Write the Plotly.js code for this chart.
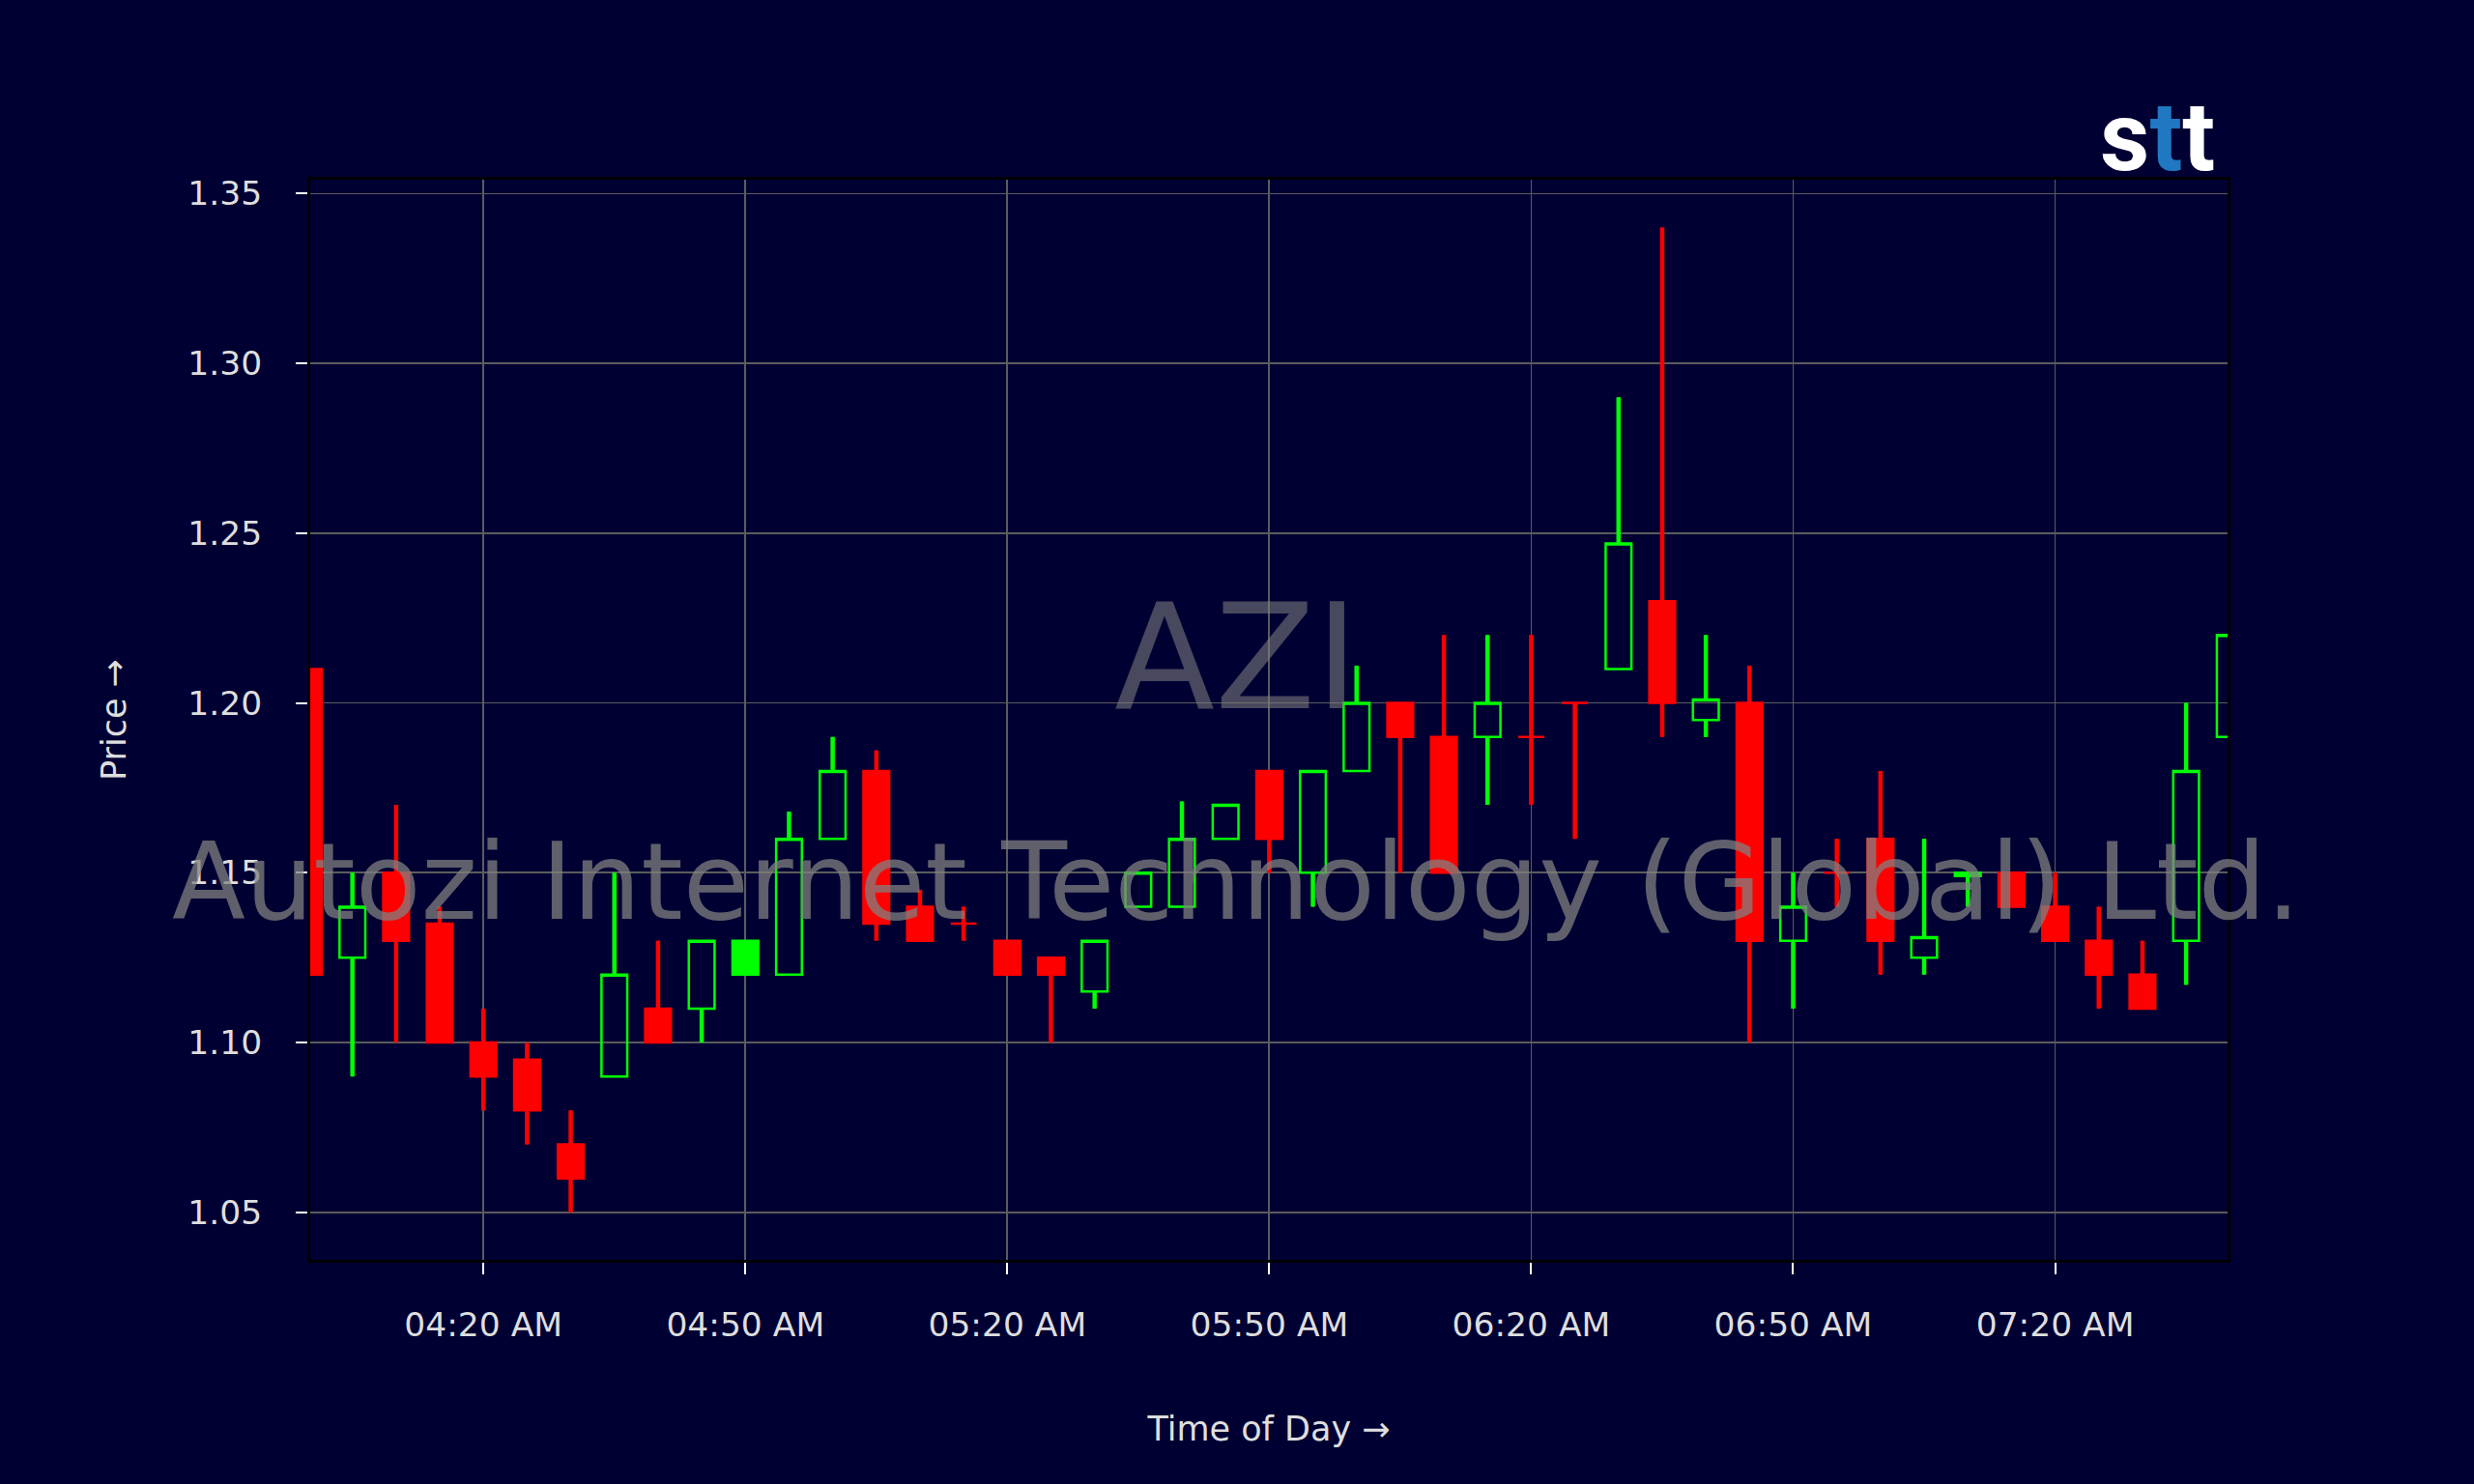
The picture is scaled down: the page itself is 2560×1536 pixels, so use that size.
<!DOCTYPE html>
<html>
<head>
<meta charset="utf-8">
<script src="https://cdn.plot.ly/plotly-3.0.1.min.js"></script>
<style>
html,body{margin:0;padding:0;background:#000033;}
#chart{width:2560px;height:1536px;}
</style>
</head>
<body>
<div id="chart"></div>
<script>
// ---- data ----
const sessionDate = '2024-01-01';
const times = ['04:00','04:05','04:10','04:15','04:20','04:25','04:30','04:35','04:40','04:45','04:50','04:55',
               '05:00','05:05','05:10','05:15','05:20','05:25','05:30','05:35','05:40','05:45','05:50','05:55',
               '06:00','06:05','06:10','06:15','06:20','06:25','06:30','06:35','06:40','06:45','06:50','06:55',
               '07:00','07:05','07:10','07:15','07:20','07:25','07:30','07:35','07:40'];
const opens  = [1.21, 1.125,1.15, 1.135,1.10, 1.095,1.07, 1.09, 1.11, 1.11, 1.12, 1.12,
                1.16, 1.18, 1.14, 1.135,1.13, 1.125,1.115,1.14, 1.14, 1.16, 1.18, 1.15,
                1.18, 1.20, 1.19, 1.19, 1.19, 1.20, 1.21, 1.23, 1.195,1.20, 1.13, 1.15,
                1.16, 1.125,1.149,1.15, 1.14, 1.13, 1.12, 1.13, 1.19];
const highs  = [1.21, 1.15, 1.17, 1.14, 1.11, 1.10, 1.08, 1.15, 1.13, 1.13, 1.13, 1.168,
                1.19, 1.186,1.145,1.14, 1.13, 1.125,1.13, 1.15, 1.171,1.17, 1.18, 1.18,
                1.211,1.20, 1.22, 1.22, 1.22, 1.20, 1.29, 1.34, 1.22, 1.211,1.15, 1.16,
                1.18, 1.16, 1.15, 1.15, 1.15, 1.14, 1.13, 1.20, 1.22];
const lows   = [1.12, 1.09, 1.10, 1.10, 1.08, 1.07, 1.05, 1.09, 1.10, 1.10, 1.12, 1.12,
                1.16, 1.13, 1.13, 1.13, 1.12, 1.10, 1.11, 1.14, 1.14, 1.16, 1.15, 1.14,
                1.18, 1.15, 1.15, 1.17, 1.17, 1.16, 1.21, 1.19, 1.19, 1.10, 1.11, 1.14,
                1.12, 1.12, 1.14, 1.14, 1.13, 1.11, 1.11, 1.117,1.18];
const closes = [1.12, 1.14, 1.13, 1.10, 1.09, 1.08, 1.06, 1.12, 1.10, 1.13, 1.13, 1.16,
                1.18, 1.135,1.13, 1.135,1.12, 1.12, 1.13, 1.15, 1.16, 1.17, 1.16, 1.18,
                1.20, 1.19, 1.15, 1.20, 1.19, 1.20, 1.247,1.20, 1.201,1.13, 1.14, 1.15,
                1.13, 1.131,1.15, 1.14, 1.13, 1.12, 1.11, 1.18, 1.22];
const priceTicks = [1.05, 1.10, 1.15, 1.20, 1.25, 1.30, 1.35];
const tickStart = '04:20';
const xStart = '04:00:10';
const xEnd = '07:39:45';
const watermarkSymbol = 'AZI';
const watermarkName = 'Autozi Internet Technology (Global) Ltd.';
const xTitle = 'Time of Day →';
const yTitle = 'Price →';

// ---- styles ----
const BG = '#000033';
const UP = '#00ff00';
const DOWN = '#ff0000';
const FONT = 'DejaVu Sans';
const TXT = '#dedede';
const GRID = '#5c5c5c';

const xs = times.map(t => sessionDate + ' ' + t);

// body colour: close vs open; hollow when close rose above previous close
const groups = {};
for (let i = 0; i < xs.length; i++) {
  const up = closes[i] > opens[i];
  const hollow = i > 0 && closes[i] > closes[i - 1];
  const key = (up ? 'g' : 'r') + (hollow ? 'h' : 'f');
  if (!groups[key]) groups[key] = {x: [], o: [], h: [], l: [], c: [], up: up, hollow: hollow};
  const g = groups[key];
  g.x.push(xs[i]); g.o.push(opens[i]); g.h.push(highs[i]); g.l.push(lows[i]); g.c.push(closes[i]);
}

const traces = [];
Object.keys(groups).forEach(k => {
  const g = groups[k];
  const col = g.up ? UP : DOWN;
  const fill = g.hollow ? 'rgba(0,0,0,0)' : col;
  const style = {line: {color: col, width: 2.5}, fillcolor: fill};
  traces.push({
    type: 'candlestick', x: g.x, open: g.o, high: g.h, low: g.l, close: g.c,
    increasing: style, decreasing: style, whiskerwidth: 0,
    hoverinfo: 'skip', showlegend: false
  });
});

// thicker wicks (upper and lower), drawn from body edge to high / low
[true, false].forEach(upCol => {
  const wx = [], wy = [];
  for (let i = 0; i < xs.length; i++) {
    if ((closes[i] > opens[i]) !== upCol) continue;
    const top = Math.max(opens[i], closes[i]);
    const bot = Math.min(opens[i], closes[i]);
    if (highs[i] > top) { wx.push(xs[i], xs[i], null); wy.push(top, highs[i], null); }
    if (lows[i] < bot) { wx.push(xs[i], xs[i], null); wy.push(bot, lows[i], null); }
  }
  traces.push({
    type: 'scatter', mode: 'lines', x: wx, y: wy, connectgaps: false,
    line: {color: upCol ? UP : DOWN, width: 4.5},
    hoverinfo: 'skip', showlegend: false
  });
});

const axisCommon = {
  showgrid: true, gridcolor: GRID, gridwidth: 1.8, zeroline: false,
  ticks: 'outside', ticklen: 12, tickwidth: 2, tickcolor: '#ffffff',
  tickfont: {family: FONT, size: 34.5, color: TXT},
  showline: true, linecolor: '#000000', linewidth: 3, mirror: true,
  automargin: false, fixedrange: true
};

const layout = {
  width: 2560, height: 1536,
  paper_bgcolor: BG, plot_bgcolor: BG,
  margin: {l: 321, r: 255, t: 186, b: 232, pad: 0},
  showlegend: false, hovermode: false,
  boxgap: 0.41, boxgroupgap: 0,
  xaxis: Object.assign({}, axisCommon, {
    type: 'date',
    range: [sessionDate + ' ' + xStart, sessionDate + ' ' + xEnd],
    tick0: sessionDate + ' ' + tickStart, dtick: 30 * 60 * 1000,
    tickformat: '%I:%M %p',
    ticklabelstandoff: 23,
    rangeslider: {visible: false},
    title: {text: xTitle, font: {family: FONT, size: 35, color: TXT}, standoff: 77}
  }),
  yaxis: Object.assign({}, axisCommon, {
    range: [1.036, 1.3541],
    tickvals: priceTicks,
    ticktext: priceTicks.map(v => v.toFixed(2)),
    ticklabelstandoff: 28,
    title: {text: yTitle, font: {family: FONT, size: 35, color: TXT}, standoff: 54}
  }),
  annotations: [
    {text: watermarkSymbol, xref: 'paper', yref: 'paper', x: 0.4831, y: 0.5576,
     xanchor: 'center', yanchor: 'middle', showarrow: false,
     font: {family: FONT, size: 152, color: 'rgba(128,128,128,0.56)'}},
    {text: watermarkName, xref: 'paper', yref: 'paper', x: 0.4831, y: 0.3500,
     xanchor: 'center', yanchor: 'middle', showarrow: false,
     font: {family: FONT, size: 111, color: 'rgba(128,128,128,0.75)'}},
    {text: 's<span style="color:#1f78c1">t</span>t', xref: 'paper', yref: 'paper', x: 0.9635, y: 1.0402,
     xanchor: 'center', yanchor: 'middle', showarrow: false,
     font: {family: 'Roboto', size: 100, color: '#ffffff', weight: 700}}
  ]
};

Plotly.newPlot('chart', traces, layout, {staticPlot: true, displayModeBar: false});
</script>
</body>
</html>
